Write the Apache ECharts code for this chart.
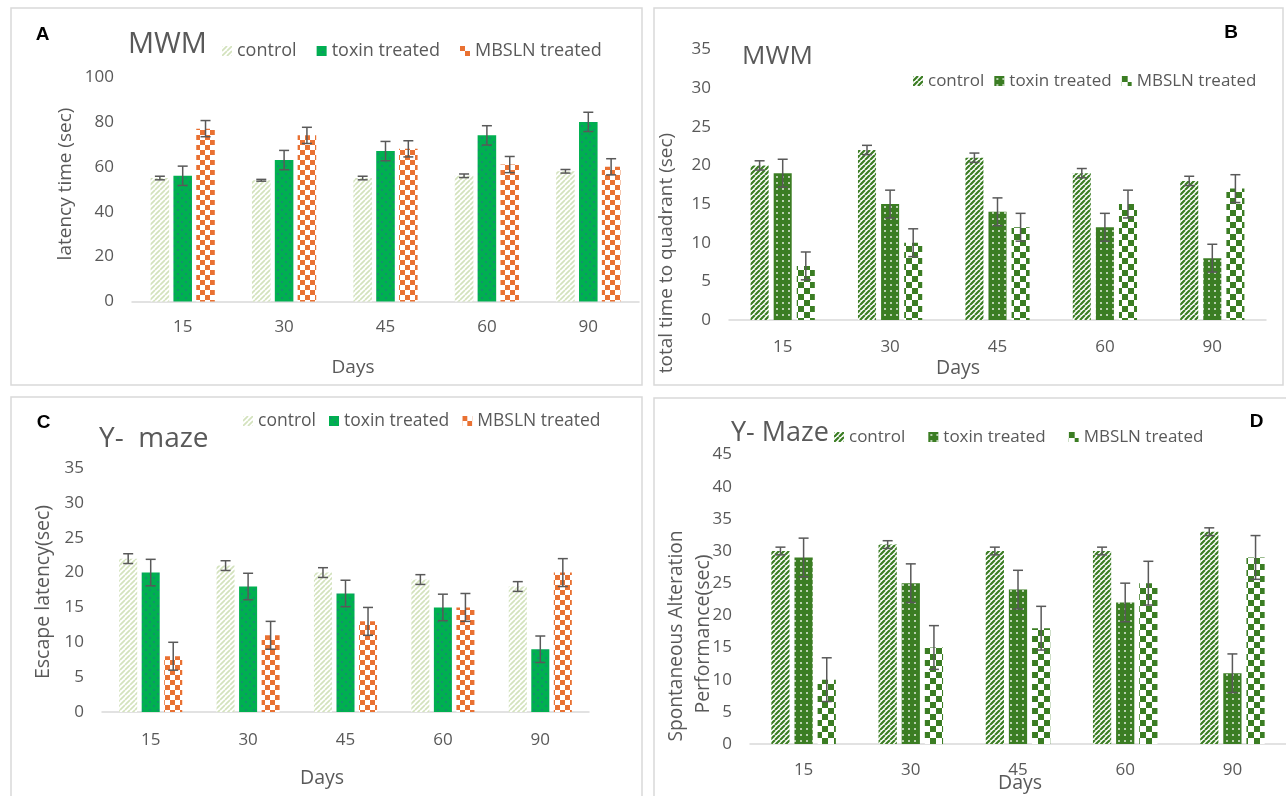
<!DOCTYPE html>
<html>
<head>
<meta charset="utf-8">
<script src="https://cdn.jsdelivr.net/npm/echarts@6/dist/echarts.min.js"></script>
<style>
  html, body { margin: 0; padding: 0; background: #ffffff; }
  #chart { width: 1286px; height: 796px; }
</style>
</head>
<body>
<div id="chart"></div>
<script>
// ---- data ----
const days = ['15', '30', '45', '60', '90'];
const groupNames = ['control', 'toxin treated', 'MBSLN treated'];

// A: MWM, latency time (sec)
const latencyControl = [55, 54, 55, 56, 58];
const latencyControlErr = [0.8, 0.4, 0.8, 0.8, 0.8];
const latencyToxin = [56, 63, 67, 74, 80];
const latencyToxinErr = [4.3, 4.3, 4.3, 4.3, 4.3];
const latencyMbsln = [77, 74, 68, 61, 60];
const latencyMbslnErr = [3.6, 3.6, 3.6, 3.6, 3.6];

// B: MWM, total time to quadrant (sec)
const quadrantControl = [20, 22, 21, 19, 18];
const quadrantControlErr = [0.6, 0.6, 0.6, 0.6, 0.6];
const quadrantToxin = [19, 15, 14, 12, 8];
const quadrantToxinErr = [1.8, 1.8, 1.8, 1.8, 1.8];
const quadrantMbsln = [7, 10, 12, 15, 17];
const quadrantMbslnErr = [1.8, 1.8, 1.8, 1.8, 1.8];

// C: Y-maze, escape latency (sec)
const escapeControl = [22, 21, 20, 19, 18];
const escapeControlErr = [0.7, 0.7, 0.7, 0.7, 0.7];
const escapeToxin = [20, 18, 17, 15, 9];
const escapeToxinErr = [1.9, 1.9, 1.9, 1.9, 1.9];
const escapeMbsln = [8, 11, 13, 15, 20];
const escapeMbslnErr = [2, 2, 2, 2, 2];

// D: Y-maze, spontaneous alteration performance (sec)
const alterControl = [30, 31, 30, 30, 33];
const alterControlErr = [0.6, 0.6, 0.6, 0.6, 0.6];
const alterToxin = [29, 25, 24, 22, 11];
const alterToxinErr = [3, 3, 3, 3, 3];
const alterMbsln = [10, 15, 18, 25, 29];
const alterMbslnErr = [3.4, 3.4, 3.4, 3.4, 3.4];

// ---- fill patterns ----
function tile(w, h, paint) {
  const c = document.createElement('canvas');
  c.width = w; c.height = h;
  paint(c.getContext('2d'), w, h);
  return { image: c, repeat: 'repeat' };
}
function diagonal(bg, fg, size, lw) {
  return tile(size, size, (g, w, h) => {
    g.fillStyle = bg; g.fillRect(0, 0, w, h);
    g.strokeStyle = fg; g.lineWidth = lw; g.beginPath();
    for (let k = -1; k <= 1; k++) { g.moveTo(k * w, h); g.lineTo(k * w + w, 0); }
    g.stroke();
  });
}
function dotted(bg, fg, w, h, pts, r) {
  return tile(w, h, (g) => {
    g.fillStyle = bg; g.fillRect(0, 0, w, h);
    g.fillStyle = fg;
    pts.forEach(p => { g.fillRect(p[0] - r / 2, p[1] - r / 2, r, r); });
  });
}
function checker(a, b, cell) {
  return tile(cell * 2, cell * 2, (g) => {
    g.fillStyle = b; g.fillRect(0, 0, cell * 2, cell * 2);
    g.fillStyle = a;
    g.fillRect(0, 0, cell, cell);
    g.fillRect(cell, cell, cell, cell);
  });
}

const GREEN = '#3b7d23';
const fillsBright = [
  diagonal('#ffffff', '#d3e2bd', 5, 1.7),
  dotted('#00b050', 'rgba(60,80,170,0.75)', 8, 8, [[2, 2], [6, 6]], 1.3),
  checker('#e97132', '#ffffff', 5)
];
const fillsGreen = [
  diagonal('#ffffff', GREEN, 5, 2.2),
  dotted(GREEN, '#ffffff', 6, 6, [[3, 3]], 1.6),
  checker(GREEN, '#ffffff', 6)
];

// ---- panels ----
const FONT = 'Open Sans';
const TEXT = '#595959';
const panels = [
  { key: 'A', grid: { left: 132, right: 647, top: 77, bottom: 494.5 }, max: 100, interval: 20,
    values: [latencyControl, latencyToxin, latencyMbsln], errs: [latencyControlErr, latencyToxinErr, latencyMbslnErr],
    fills: fillsBright, barPct: 0.183, gapPct: 0.23, labelMargin: 17,
    legend: { left: 222, top: 41, itemGap: 20, fontSize: 18 } },
  { key: 'B', grid: { left: 729, right: 20, top: 49.5, bottom: 476 }, max: 35, interval: 5,
    values: [quadrantControl, quadrantToxin, quadrantMbsln], errs: [quadrantControlErr, quadrantToxinErr, quadrantMbslnErr],
    fills: fillsGreen, barPct: 0.168, gapPct: 0.28, labelMargin: 18.5,
    legend: { left: 913, top: 71, itemGap: 10, fontSize: 17 } },
  { key: 'C', grid: { left: 102, right: 697, top: 468, bottom: 84 }, max: 35, interval: 5,
    values: [escapeControl, escapeToxin, escapeMbsln], errs: [escapeControlErr, escapeToxinErr, escapeMbslnErr],
    fills: fillsBright, barPct: 0.185, gapPct: 0.25, labelMargin: 19.5,
    legend: { left: 243, top: 411, itemGap: 13, fontSize: 17.5 } },
  { key: 'D', grid: { left: 750, right: -4, top: 454.5, bottom: 52 }, max: 45, interval: 5,
    values: [alterControl, alterToxin, alterMbsln], errs: [alterControlErr, alterToxinErr, alterMbslnErr],
    fills: fillsGreen, barPct: 0.17, gapPct: 0.27, labelMargin: 17.5,
    legend: { left: 834, top: 427, itemGap: 23, fontSize: 17 } }
];

function errorBarRenderer(barPct, gapPct, n) {
  return function (params, api) {
    const cat = api.value(0), val = api.value(1), err = api.value(2), k = api.value(3);
    const band = api.size([1, 0])[0];
    const bw = band * barPct, gap = bw * gapPct;
    const total = n * bw + (n - 1) * gap;
    const x = api.coord([cat, val])[0] - total / 2 + k * (bw + gap) + bw / 2;
    const yHi = api.coord([cat, val + err])[1];
    const yLo = api.coord([cat, val - err])[1];
    const cap = 5;
    const st = { stroke: '#595959', lineWidth: 1.5 };
    return {
      type: 'group',
      children: [
        { type: 'line', shape: { x1: x, y1: yHi, x2: x, y2: yLo }, style: st },
        { type: 'line', shape: { x1: x - cap, y1: yHi, x2: x + cap, y2: yHi }, style: st },
        { type: 'line', shape: { x1: x - cap, y1: yLo, x2: x + cap, y2: yLo }, style: st }
      ]
    };
  };
}

const grid = [], xAxis = [], yAxis = [], series = [], legend = [];
panels.forEach((p, i) => {
  grid.push(Object.assign({ containLabel: false }, p.grid));
  xAxis.push({
    type: 'category', gridIndex: i, data: days,
    axisLine: { lineStyle: { color: '#d9d9d9', width: 1.5 } },
    axisTick: { show: false },
    axisLabel: { color: TEXT, fontSize: 17, fontFamily: FONT, margin: p.labelMargin }
  });
  yAxis.push({
    type: 'value', gridIndex: i, min: 0, max: p.max, interval: p.interval,
    axisLine: { show: false }, axisTick: { show: false }, splitLine: { show: false },
    axisLabel: { color: TEXT, fontSize: 17, fontFamily: FONT, margin: 18 }
  });
  const names = groupNames.map(g => p.key + ':' + g);
  names.forEach((nm, k) => {
    series.push({
      name: nm, type: 'bar', xAxisIndex: i, yAxisIndex: i,
      data: p.values[k],
      barWidth: (p.barPct * 100) + '%', barGap: (p.gapPct * 100) + '%',
      itemStyle: { color: p.fills[k] },
      emphasis: { disabled: true }
    });
  });
  const errData = [];
  p.values.forEach((vals, k) => vals.forEach((v, c) => errData.push([c, v, p.errs[k][c], k])));
  series.push({
    type: 'custom', xAxisIndex: i, yAxisIndex: i, z: 5,
    renderItem: errorBarRenderer(p.barPct, p.gapPct, 3),
    encode: { x: 0, y: 1 },
    data: errData, silent: true
  });
  legend.push({
    data: names, left: p.legend.left, top: p.legend.top, itemGap: p.legend.itemGap,
    padding: 0, itemWidth: 10, itemHeight: 10, icon: 'rect', selectedMode: false,
    formatter: (nm) => nm.split(':')[1],
    textStyle: { color: TEXT, fontSize: p.legend.fontSize, fontFamily: FONT, lineHeight: 20 }
  });
});

const titleStyle = (size) => ({ color: TEXT, fontSize: size, fontFamily: FONT, fontWeight: 'normal', lineHeight: size });
const title = [
  { text: 'MWM', left: 128, top: 45 - 14.5, padding: 0, textStyle: titleStyle(29) },
  { text: 'MWM', left: 742, top: 57 - 13, padding: 0, textStyle: titleStyle(26) },
  { text: 'Y-  maze', left: 99, top: 439 - 14, padding: 0, textStyle: titleStyle(28) },
  { text: 'Y- Maze', left: 731, top: 433 - 13.5, padding: 0, textStyle: titleStyle(27) }
];

function label(text, x, y, size, opts) {
  return Object.assign({
    type: 'text', x: x, y: y, silent: true,
    style: { text: text, fill: TEXT, fontSize: size, fontFamily: FONT, align: 'center', verticalAlign: 'middle' }
  }, opts || {});
}
function boldLetter(text, x, y) {
  return { type: 'text', x: x, y: y, silent: true,
    style: { text: text, fill: '#000000', fontSize: 19, fontWeight: 'bold', fontFamily: 'Liberation Sans', align: 'center', verticalAlign: 'middle' } };
}
function frame(x, y, w, h) {
  return { type: 'rect', silent: true, shape: { x: x, y: y, width: w, height: h },
    style: { fill: 'none', stroke: '#d9d9d9', lineWidth: 1.5 } };
}
const rot = { rotation: Math.PI / 2 };
const graphic = [
  frame(11, 8, 631, 377), frame(654, 8, 629, 377),
  frame(11, 397, 631, 420), frame(654, 398, 700, 420),
  boldLetter('A', 42.5, 35), boldLetter('B', 1231, 33), boldLetter('C', 43.5, 423), boldLetter('D', 1256.5, 422),
  label('latency time (sec)', 65.5, 184, 19, rot),
  label('total time to quadrant (sec)', 667, 253, 19, rot),
  label('Escape latency(sec)', 43.5, 592, 19.5, rot),
  label('Spontaneous Alteration', 677, 636, 19.2, rot),
  label('Performance(sec)', 703, 634, 19.5, rot),
  label('Days', 353, 368, 19),
  label('Days', 958, 368, 19.5),
  label('Days', 322, 778, 19.5),
  label('Days', 1020, 783, 19.5)
];

const chart = echarts.init(document.getElementById('chart'), null, { renderer: 'canvas' });
chart.setOption({
  animation: false,
  backgroundColor: '#ffffff',
  title: title,
  legend: legend,
  grid: grid,
  xAxis: xAxis,
  yAxis: yAxis,
  series: series,
  graphic: graphic
});
</script>
</body>
</html>
